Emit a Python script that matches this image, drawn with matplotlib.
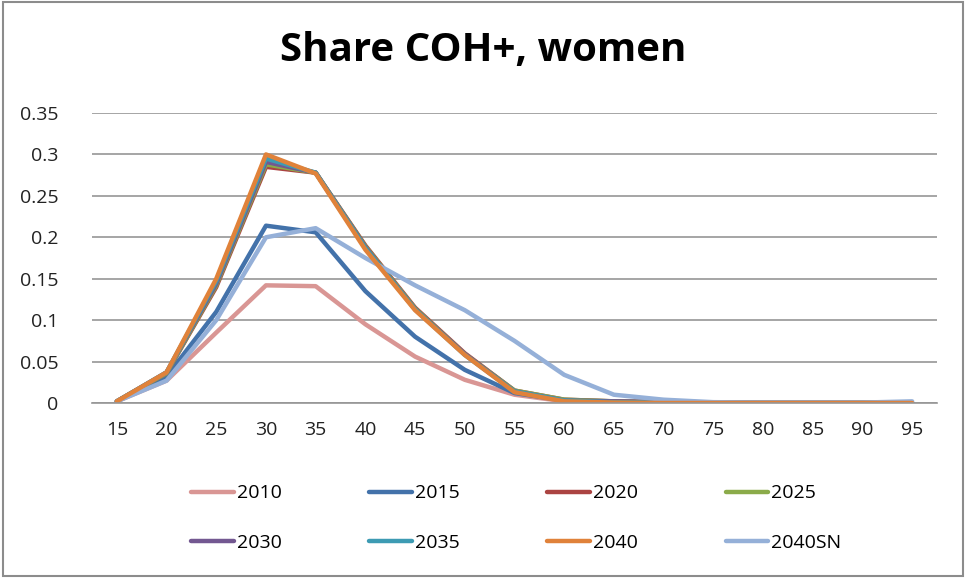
import matplotlib
matplotlib.use("Agg")
import matplotlib.pyplot as plt
from matplotlib.patches import Rectangle

ages = [15, 20, 25, 30, 35, 40, 45, 50, 55, 60, 65, 70, 75, 80, 85, 90, 95]
s2010 = [0.002, 0.027, 0.085, 0.142, 0.141, 0.095, 0.056, 0.028, 0.010, 0.002, 0.001, 0.0005, 0, 0, 0, 0, 0]
s2015 = [0.002, 0.032, 0.110, 0.214, 0.206, 0.135, 0.080, 0.040, 0.012, 0.003, 0.001, 0.0005, 0, 0, 0, 0, 0]
s2020 = [0.002, 0.036, 0.140, 0.285, 0.278, 0.190, 0.115, 0.060, 0.015, 0.004, 0.002, 0.001, 0.0005, 0, 0, 0, 0]
s2025 = [0.002, 0.036, 0.142, 0.288, 0.278, 0.189, 0.114, 0.059, 0.015, 0.004, 0.002, 0.001, 0.0005, 0, 0, 0, 0]
s2030 = [0.002, 0.037, 0.144, 0.291, 0.278, 0.188, 0.113, 0.059, 0.014, 0.003, 0.002, 0.001, 0.0005, 0, 0, 0, 0]
s2035 = [0.002, 0.037, 0.147, 0.295, 0.278, 0.187, 0.113, 0.058, 0.014, 0.003, 0.001, 0.0005, 0, 0, 0, 0, 0]
s2040 = [0.002, 0.037, 0.150, 0.300, 0.277, 0.185, 0.112, 0.058, 0.013, 0.002, 0.0005, 0, 0, 0, 0, 0, 0]
s2040sn = [0.002, 0.027, 0.100, 0.200, 0.211, 0.175, 0.142, 0.112, 0.075, 0.034, 0.010, 0.004, 0.001, 0.0005, 0.0005, 0.0005, 0.002]

labels = ["2010", "2015", "2020", "2025", "2030", "2035", "2040", "2040SN"]
series = [s2010, s2015, s2020, s2025, s2030, s2035, s2040, s2040sn]
colors = ["#d99694", "#4372aa", "#ab4442", "#8bab4a", "#735891", "#3d9bb3", "#e0823a", "#95b0d8"]

yticks = [0, 0.05, 0.1, 0.15, 0.2, 0.25, 0.3, 0.35]
ytick_labels = ["0", "0.05", "0.1", "0.15", "0.2", "0.25", "0.3", "0.35"]

plt.rcParams['font.family'] = ['Open Sans', 'DejaVu Sans']

fig = plt.figure(figsize=(9.66, 5.78), dpi=100)
fig.patches.append(Rectangle((0.003, 0.003), 0.994, 0.994, transform=fig.transFigure,
                             fill=False, edgecolor="#8c8c8c", linewidth=1.5))
ax = fig.add_axes([92 / 966, 1 - 403 / 578, (937 - 92) / 966, (403 - 113) / 578])

x = list(range(len(ages)))
order = [0, 1, 2, 3, 4, 5, 7, 6]
handles = {}
for i in order:
    h, = ax.plot(x, series[i], color=colors[i], linewidth=3.2, solid_joinstyle="round",
                 solid_capstyle="round", label=labels[i])
    handles[i] = h

ax.set_xlim(-0.5, len(ages) - 0.5)
ax.set_ylim(0, 0.35)
ax.set_yticks(yticks)
ax.set_yticklabels(ytick_labels)
ax.set_xticks(x)
ax.set_xticklabels([str(a) for a in ages])
ax.tick_params(axis="both", length=0, labelsize=14, colors="#222222")
ax.tick_params(axis="y", pad=24)
ax.tick_params(axis="x", pad=13)
ax.yaxis.grid(True, color="#969696", linewidth=1.2)
ax.set_axisbelow(True)
for s in ["top", "right", "left"]:
    ax.spines[s].set_visible(False)
ax.spines["bottom"].set_color("#969696")
ax.spines["bottom"].set_linewidth(1.2)

fig.text(0.5, 1 - 50 / 578, "Share COH+, women", ha="center", va="center",
         fontsize=29, fontweight="bold", color="#000000")

leg_order = [0, 4, 1, 5, 2, 6, 3, 7]
fig.legend([handles[i] for i in leg_order], [labels[i] for i in leg_order], loc="center",
           bbox_to_anchor=(0.5345, 1 - 518 / 578), ncol=4, frameon=False,
           fontsize=14, handlelength=2.2, handletextpad=0.15, columnspacing=4.5,
           labelspacing=1.6)

fig.savefig("out.png", dpi=100)
